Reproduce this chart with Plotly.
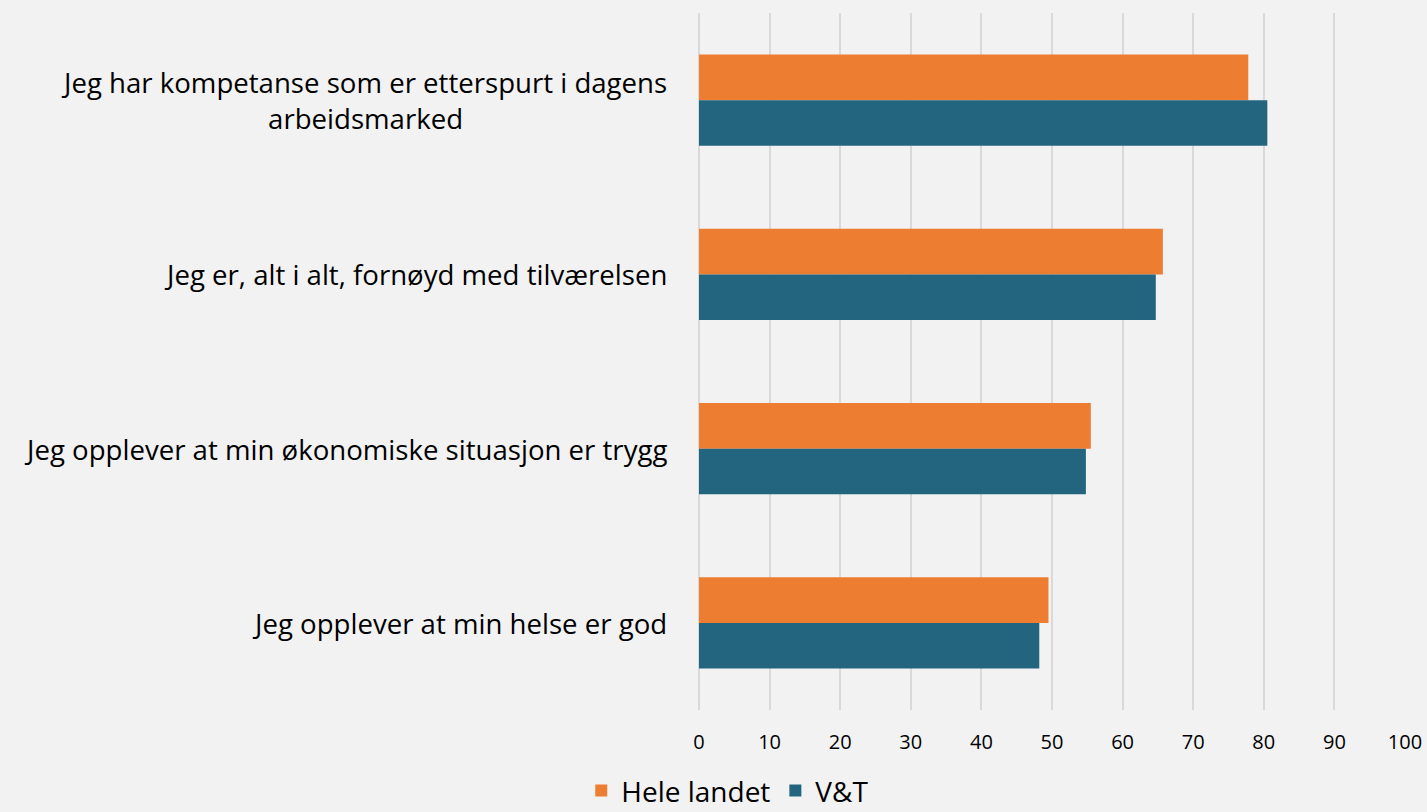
import plotly.graph_objects as go

categories = [
    "Jeg har kompetanse som er etterspurt i dagens<br>arbeidsmarked",
    "Jeg er, alt i alt, fornøyd med tilværelsen",
    "Jeg opplever at min økonomiske situasjon er trygg",
    "Jeg opplever at min helse er god",
]
hele_landet = [77.8, 65.7, 55.5, 49.5]
vt = [80.5, 64.7, 54.8, 48.2]
tick_vals = [0, 10, 20, 30, 40, 50, 60, 70, 80, 90, 100]

FONT = "Open Sans"
fig = go.Figure()
fig.add_trace(go.Bar(y=categories, x=hele_landet, name="Hele landet", orientation="h",
                     marker=dict(color="#ED7D31", line=dict(width=0))))
fig.add_trace(go.Bar(y=categories, x=vt, name="V&T", orientation="h",
                     marker=dict(color="#23647E", line=dict(width=0))))

for c in categories:
    fig.add_annotation(x=0, xref="paper", y=c, yref="y", text=c, showarrow=False,
                       xanchor="right", xshift=-30, align="center",
                       font=dict(family=FONT, size=27.6, color="#000000"))

fig.update_layout(
    width=1427, height=812,
    paper_bgcolor="#F2F2F2", plot_bgcolor="#F2F2F2",
    margin=dict(l=699, r=22, t=13, b=102, autoexpand=False),
    barmode="group", bargap=0.477, bargroupgap=0,
    font=dict(family=FONT, color="#000000"),
    xaxis=dict(range=[0, 100], tickvals=tick_vals, showgrid=True, gridcolor="#D9D9D9",
               gridwidth=2, zeroline=True, zerolinecolor="#D9D9D9", zerolinewidth=2,
               showline=False, ticks="", ticklabelstandoff=18, automargin=False,
               tickfont=dict(family=FONT, size=20, color="#000000")),
    yaxis=dict(autorange="reversed", showticklabels=False, showgrid=False,
               zeroline=False, showline=False, ticks="", automargin=False),
    showlegend=True,
    legend=dict(orientation="h", xref="container", yref="container", x=0.51, y=0.026,
                xanchor="center", yanchor="middle",
                font=dict(family=FONT, size=28, color="#000000"),
                itemwidth=30, traceorder="normal", bgcolor="rgba(0,0,0,0)"),
)
fig.write_html("out.html", config={"displayModeBar": False},
               post_script="document.body.style.margin='0';document.body.style.background='#F2F2F2';")
